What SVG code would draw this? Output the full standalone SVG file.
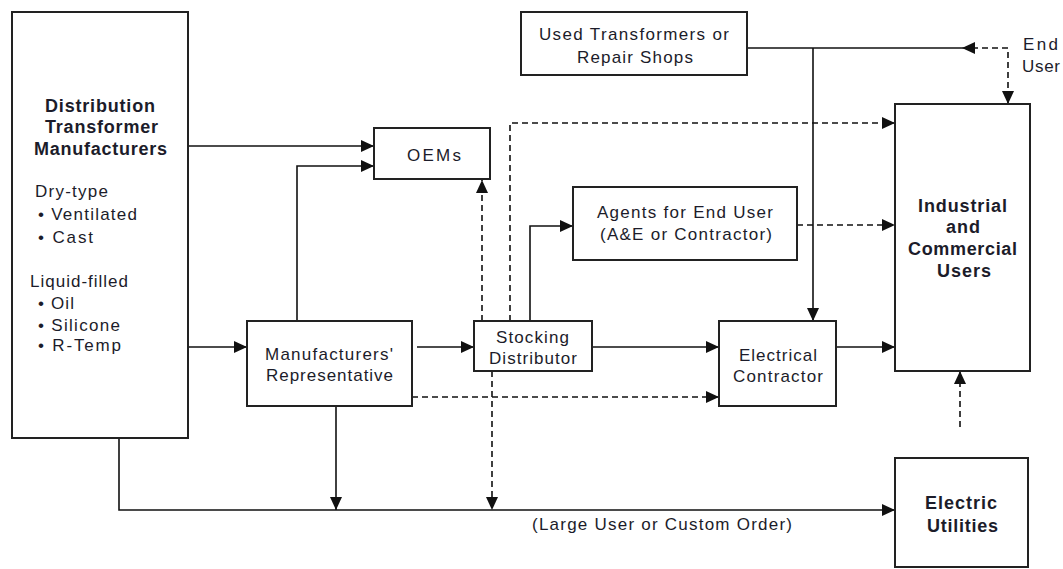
<svg xmlns="http://www.w3.org/2000/svg" width="1063" height="569" viewBox="0 0 1063 569">
<style>
.box{fill:#fff;stroke:#222;stroke-width:2}
.ln{fill:none;stroke:#111;stroke-width:1.6}
.dash{stroke-dasharray:6,4}
.t{font-family:"Liberation Sans",Arial,sans-serif;font-size:17px;fill:#1c1c2a}
.b{font-family:"Liberation Sans",Arial,sans-serif;font-size:18px;font-weight:bold;fill:#1c1c2a}
</style>
<defs>
<marker id="ah" markerUnits="userSpaceOnUse" markerWidth="13" markerHeight="12" refX="13" refY="6" orient="auto-start-reverse">
<path d="M0,0 L13,6 L0,12 z" fill="#111"/>
</marker>
</defs>
<rect width="1063" height="569" fill="#fff"/>
<g id="connectors">
<path class="ln" d="M188,146 H374" marker-end="url(#ah)"/>
<path class="ln" d="M188,347 H247" marker-end="url(#ah)"/>
<path class="ln" d="M297,321 V166 H374" marker-end="url(#ah)"/>
<path class="ln" d="M417,347 H474" marker-end="url(#ah)"/>
<path class="ln dash" d="M482,321 V180" marker-end="url(#ah)"/>
<path class="ln dash" d="M510,321 V123 H895" marker-end="url(#ah)"/>
<path class="ln" d="M530,321 V226 H573" marker-end="url(#ah)"/>
<path class="ln dash" d="M797,225 H895" marker-end="url(#ah)"/>
<path class="ln" d="M592,347 H719" marker-end="url(#ah)"/>
<path class="ln" d="M747,48 H962"/>
<path class="ln dash" d="M962,48 H1008 V104" marker-start="url(#ah)" marker-end="url(#ah)"/>
<path class="ln" d="M813,48 V321" marker-end="url(#ah)"/>
<path class="ln" d="M836,347 H895" marker-end="url(#ah)"/>
<path class="ln dash" d="M412,397 H719" marker-end="url(#ah)"/>
<path class="ln dash" d="M492,371 V510" marker-end="url(#ah)"/>
<path class="ln" d="M119,438 V510 H895" marker-end="url(#ah)"/>
<path class="ln" d="M336,406 V510" marker-end="url(#ah)"/>
<path class="ln dash" d="M960,427 V371" marker-end="url(#ah)"/>
</g>
<g id="dtm">
<rect class="box" x="12" y="12" width="176" height="426"/>
<text class="b" x="45" y="112" textLength="110" lengthAdjust="spacing">Distribution</text>
<text class="b" x="45" y="133" textLength="113" lengthAdjust="spacing">Transformer</text>
<text class="b" x="34" y="155" textLength="133" lengthAdjust="spacing">Manufacturers</text>
<text class="t" x="35" y="197" textLength="73" lengthAdjust="spacing">Dry-type</text>
<text class="t" x="38" y="220" textLength="99" lengthAdjust="spacing">• Ventilated</text>
<text class="t" x="38" y="243" textLength="55" lengthAdjust="spacing">• Cast</text>
<text class="t" x="30" y="287" textLength="98" lengthAdjust="spacing">Liquid-filled</text>
<text class="t" x="38" y="309" textLength="36" lengthAdjust="spacing">• Oil</text>
<text class="t" x="38" y="331" textLength="82" lengthAdjust="spacing">• Silicone</text>
<text class="t" x="38" y="351" textLength="83" lengthAdjust="spacing">• R-Temp</text>
</g>
<g id="oems">
<rect class="box" x="374" y="128" width="116" height="51"/>
<text class="t" x="407" y="161" textLength="54" lengthAdjust="spacing">OEMs</text>
</g>
<g id="rep">
<rect class="box" x="247" y="321" width="165" height="85"/>
<text class="t" x="265" y="360" textLength="128" lengthAdjust="spacing">Manufacturers'</text>
<text class="t" x="266" y="381" textLength="127" lengthAdjust="spacing">Representative</text>
</g>
<g id="used">
<rect class="box" x="521" y="12" width="226" height="63"/>
<text class="t" x="539" y="40" textLength="190" lengthAdjust="spacing">Used Transformers or</text>
<text class="t" x="577" y="63" textLength="116" lengthAdjust="spacing">Repair Shops</text>
</g>
<g id="agents">
<rect class="box" x="573" y="187" width="224" height="73"/>
<text class="t" x="597" y="218" textLength="176" lengthAdjust="spacing">Agents for End User</text>
<text class="t" x="600" y="240" textLength="172" lengthAdjust="spacing">(A&amp;E or Contractor)</text>
</g>
<g id="stocking">
<rect class="box" x="474" y="321" width="118" height="50"/>
<text class="t" x="496" y="343" textLength="73" lengthAdjust="spacing">Stocking</text>
<text class="t" x="489" y="364" textLength="88" lengthAdjust="spacing">Distributor</text>
</g>
<g id="electrical">
<rect class="box" x="719" y="321" width="117" height="85"/>
<text class="t" x="739" y="361" textLength="78" lengthAdjust="spacing">Electrical</text>
<text class="t" x="733" y="382" textLength="90" lengthAdjust="spacing">Contractor</text>
</g>
<g id="industrial">
<rect class="box" x="895" y="104" width="135" height="267"/>
<text class="b" x="918" y="212" textLength="89" lengthAdjust="spacing">Industrial</text>
<text class="b" x="946" y="233" textLength="34" lengthAdjust="spacing">and</text>
<text class="b" x="908" y="255" textLength="109" lengthAdjust="spacing">Commercial</text>
<text class="b" x="937" y="277" textLength="54" lengthAdjust="spacing">Users</text>
</g>
<g id="utilities">
<rect class="box" x="895" y="458" width="133" height="109"/>
<text class="b" x="925" y="509" textLength="72" lengthAdjust="spacing">Electric</text>
<text class="b" x="927" y="532" textLength="71" lengthAdjust="spacing">Utilities</text>
</g>
<g id="labels">
<text class="t" x="532" y="530" textLength="260" lengthAdjust="spacing">(Large User or Custom Order)</text>
<text class="t" x="1023" y="50" textLength="35" lengthAdjust="spacing">End</text>
<text class="t" x="1022" y="72" textLength="38" lengthAdjust="spacing">User</text>
</g>
</svg>
